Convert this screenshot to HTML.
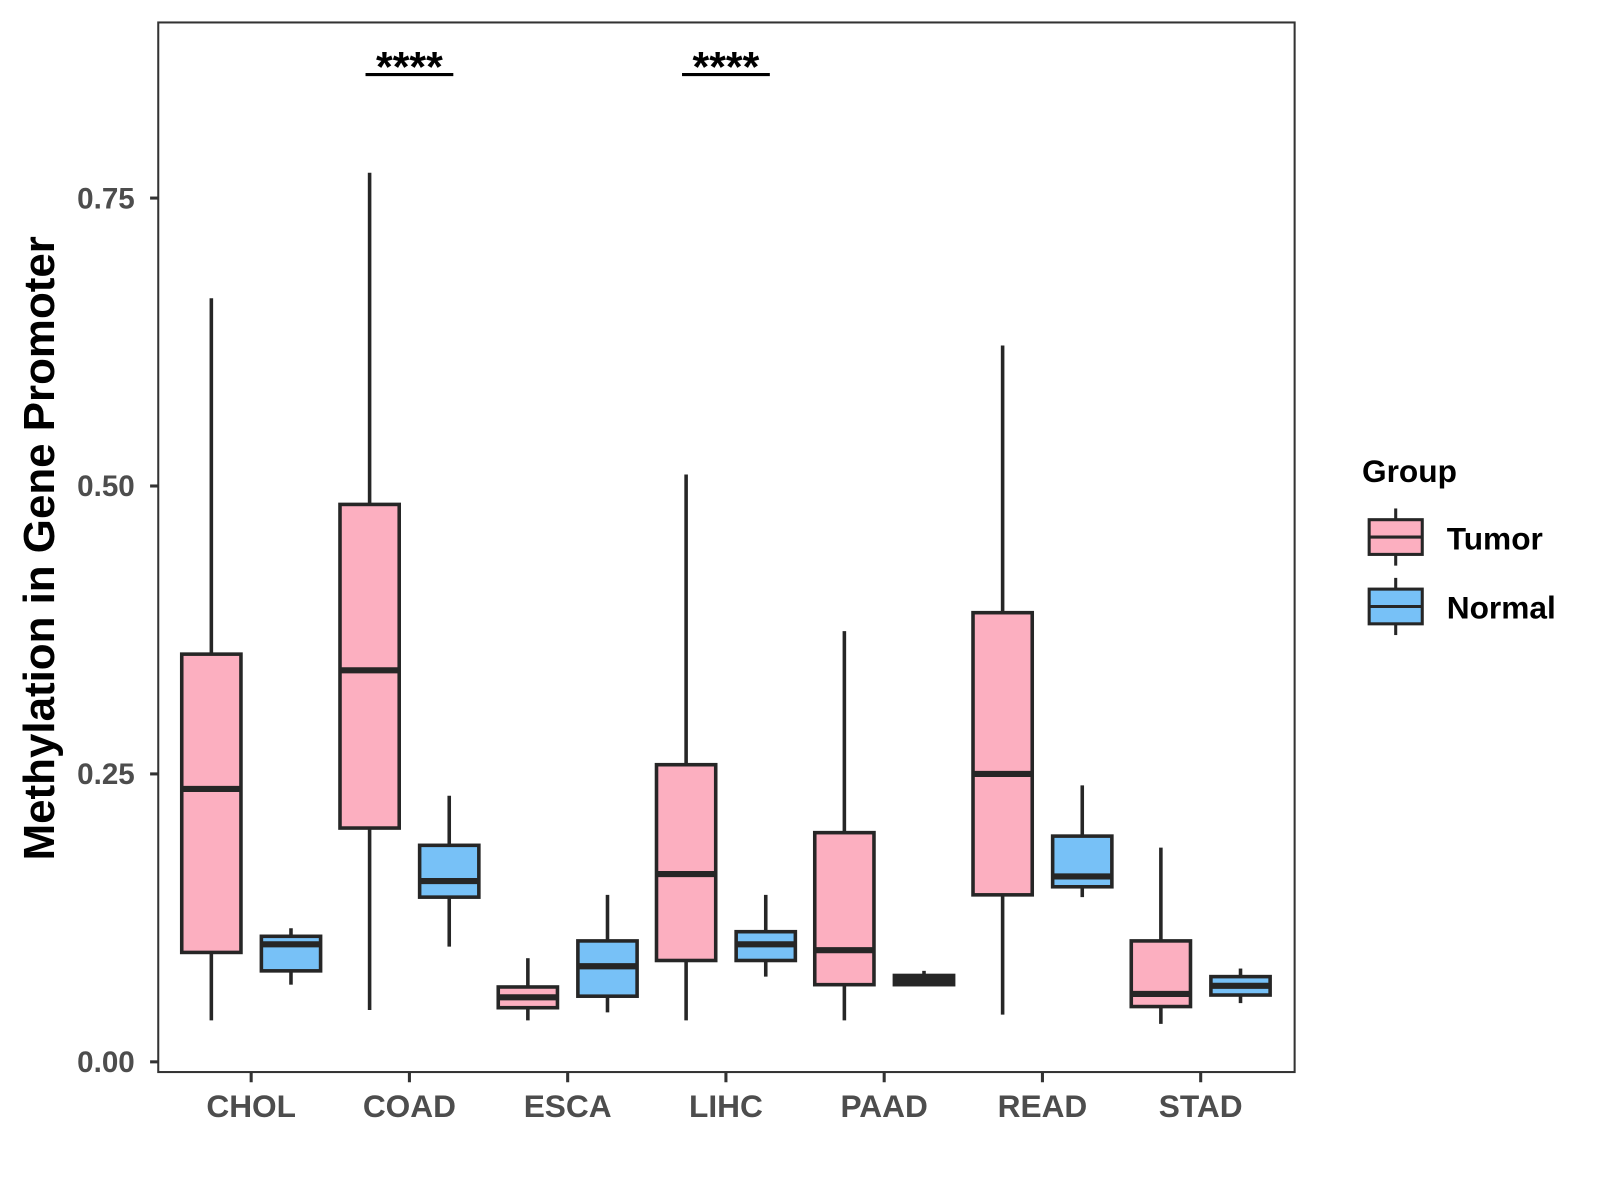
<!DOCTYPE html>
<html><head><meta charset="utf-8"><style>
html,body{margin:0;padding:0;background:#fff;}
svg{display:block;font-family:"Liberation Sans",Arial,sans-serif;}
</style></head><body>
<svg id="chart" width="1600" height="1200" viewBox="0 0 1600 1200" xmlns="http://www.w3.org/2000/svg">
<rect x="0" y="0" width="1600" height="1200" fill="#fff"/>
<g transform="scale(1.021)">
<g id="marks"></g>
<rect x="155" y="22" width="1113" height="1028" fill="none" stroke="#333" stroke-width="2"/>
<text transform="translate(53,537) rotate(-90)" text-anchor="middle" font-size="43" font-weight="bold" fill="#000">Methylation in Gene Promoter</text>
<text x="1334" y="472" font-size="31" font-weight="bold" fill="#000">Group</text>
<g>
<line x1="1367" y1="498" x2="1367" y2="554" stroke="#262626" stroke-width="3"/>
<rect x="1341" y="509" width="52" height="34" fill="#FCAFC0" stroke="#262626" stroke-width="3"/>
<line x1="1341" y1="526" x2="1393" y2="526" stroke="#262626" stroke-width="3"/>
<text x="1417" y="538" font-size="31" font-weight="bold" fill="#000">Tumor</text>
</g>
<g>
<line x1="1367" y1="566" x2="1367" y2="622" stroke="#262626" stroke-width="3"/>
<rect x="1341" y="577" width="52" height="34" fill="#77C1F7" stroke="#262626" stroke-width="3"/>
<line x1="1341" y1="594" x2="1393" y2="594" stroke="#262626" stroke-width="3"/>
<text x="1417" y="606" font-size="31" font-weight="bold" fill="#000">Normal</text>
</g>
</g>
</svg>
<script>
const categories = ["CHOL","COAD","ESCA","LIHC","PAAD","READ","STAD"];
// [low, q1, median, q3, high]
const tumorStats = [
 [0.036,0.095,0.237,0.354,0.663],
 [0.045,0.203,0.340,0.484,0.772],
 [0.036,0.047,0.056,0.065,0.090],
 [0.036,0.088,0.163,0.258,0.510],
 [0.036,0.067,0.097,0.199,0.374],
 [0.041,0.145,0.250,0.390,0.622],
 [0.033,0.048,0.059,0.105,0.186]
];
const normalStats = [
 [0.067,0.079,0.102,0.109,0.116],
 [0.100,0.143,0.157,0.188,0.231],
 [0.043,0.057,0.083,0.105,0.145],
 [0.074,0.088,0.102,0.113,0.145],
 [0.066,0.067,0.071,0.075,0.079],
 [0.143,0.152,0.161,0.196,0.240],
 [0.051,0.058,0.066,0.074,0.081]
];
const yTicks = [0, 0.25, 0.5, 0.75];
const yTickLabels = ["0.00","0.25","0.50","0.75"];
const sigCategories = ["COAD","LIHC"];
const sigLabels = ["****","****"];

const NS="http://www.w3.org/2000/svg";
const svg=document.getElementById('marks');
function y(v){return 1040-v*1128;}
function x(i){return 246+i*155;}
function el(t,a,p){const e=document.createElementNS(NS,t);for(const k in a)e.setAttribute(k,a[k]);(p||svg).appendChild(e);return e;}

yTicks.forEach((t,i)=>{
  const g=el('g',{});
  
  
  el('line',{x1:147,x2:155,y1:y(t),y2:y(t),stroke:'#333','stroke-width':3},g);
  const tx=el('text',{x:132,y:y(t)+10,'text-anchor':'end','font-size':29,'font-weight':'bold',fill:'#4d4d4d'},g);
  tx.textContent=yTickLabels[i];
});
categories.forEach((c,i)=>{
  const g=el('g',{});
  
  
  el('line',{x1:x(i),x2:x(i),y1:1050,y2:1060,stroke:'#333','stroke-width':3},g);
  const tx=el('text',{x:x(i),y:1094,'text-anchor':'middle','font-size':31,'font-weight':'bold',fill:'#4d4d4d'},g);
  tx.textContent=c;
});
function box(cx,s,fill,name){
  const g=el('g',{});
  
  
  el('line',{x1:cx,x2:cx,y1:y(s[0]),y2:y(s[4]),stroke:'#262626','stroke-width':3.5},g);
  el('rect',{x:cx-29,y:y(s[3]),width:58,height:y(s[1])-y(s[3]),fill:fill,stroke:'#262626','stroke-width':3.5},g);
  el('line',{x1:cx-29,x2:cx+29,y1:y(s[2]),y2:y(s[2]),stroke:'#262626','stroke-width':6},g);
}
categories.forEach((c,i)=>{
  box(x(i)-39,tumorStats[i],'#FCAFC0','box-tumor-'+c.toLowerCase());
  box(x(i)+39,normalStats[i],'#77C1F7','box-normal-'+c.toLowerCase());
});
sigCategories.forEach((c,k)=>{
  const i=categories.indexOf(c);
  const g=el('g',{});
  
  
  el('line',{x1:x(i)-43,x2:x(i)+43,y1:73,y2:73,stroke:'#000','stroke-width':3},g);
  const tx=el('text',{x:x(i),y:80,'text-anchor':'middle','font-size':42,'font-weight':'bold',fill:'#000'},g);
  tx.textContent=sigLabels[k];
});
</script>
</body></html>
